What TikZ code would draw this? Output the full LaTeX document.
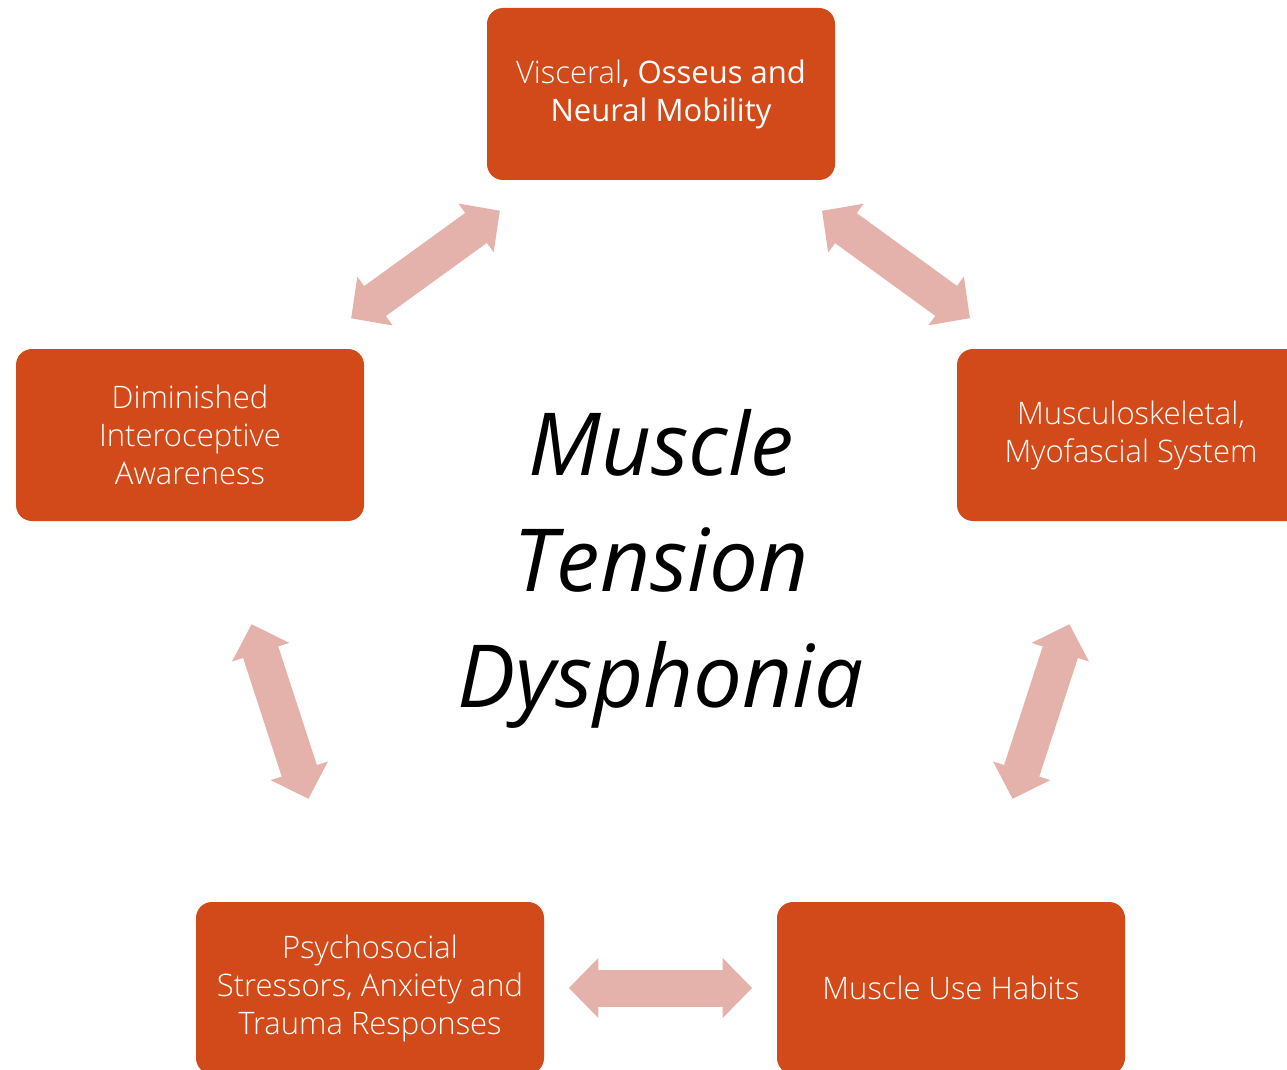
\documentclass[tikz,border=0pt]{standalone}
\usepackage{fontspec}
\setmainfont{Open Sans}
\newfontfamily\lightfont{Open Sans Light}
\usetikzlibrary{arrows.meta}

\definecolor{brick}{HTML}{D24A1A}
\definecolor{blush}{HTML}{E5B1AB}

\begin{document}
\begin{tikzpicture}[
x=.5pt, y=-.5pt,
part/.style={fill=brick, rounded corners=8pt, minimum width=174pt, minimum height=86pt, inner sep=0pt, text=white, align=center, font=\lightfont\fontsize{15.5}{19}\selectfont},
link/.style={draw=blush, line width=18.5pt, {Triangle[length=14.7pt, width=30pt, line width=.6pt]}-{Triangle[length=14.7pt, width=30pt, line width=.6pt]}, shorten <=99.5pt, shorten >=99.5pt},
title/.style={align=center, font=\itshape\fontsize{43.5}{58.2}\selectfont}
]

\useasboundingbox (0,0) rectangle (1287,1070);

%%% boxes
\node[part] (mobility) at (661,94) {Visceral{\normalfont, Osseus and}\\{\normalfont Neural Mobility}};
\node[part] (skeletal) at (1131,435) {Musculoskeletal,\\Myofascial System};
\node[part] (habits) at (951,988) {Muscle Use Habits};
\node[part] (stress) at (370,988) {Psychosocial\\Stressors, Anxiety and\\Trauma Responses};
\node[part] (aware) at (190,435) {Diminished\\Interoceptive\\Awareness};

%%% centre
\node[title] (mtd) at (661,569) {Muscle\\Tension\\Dysphonia};

%%% arrows
\foreach \a/\b in {mobility/skeletal, skeletal/habits, habits/stress, stress/aware, aware/mobility}{
	\draw[link] (\a.center) -- (\b.center);
}

\end{tikzpicture}
\end{document}
